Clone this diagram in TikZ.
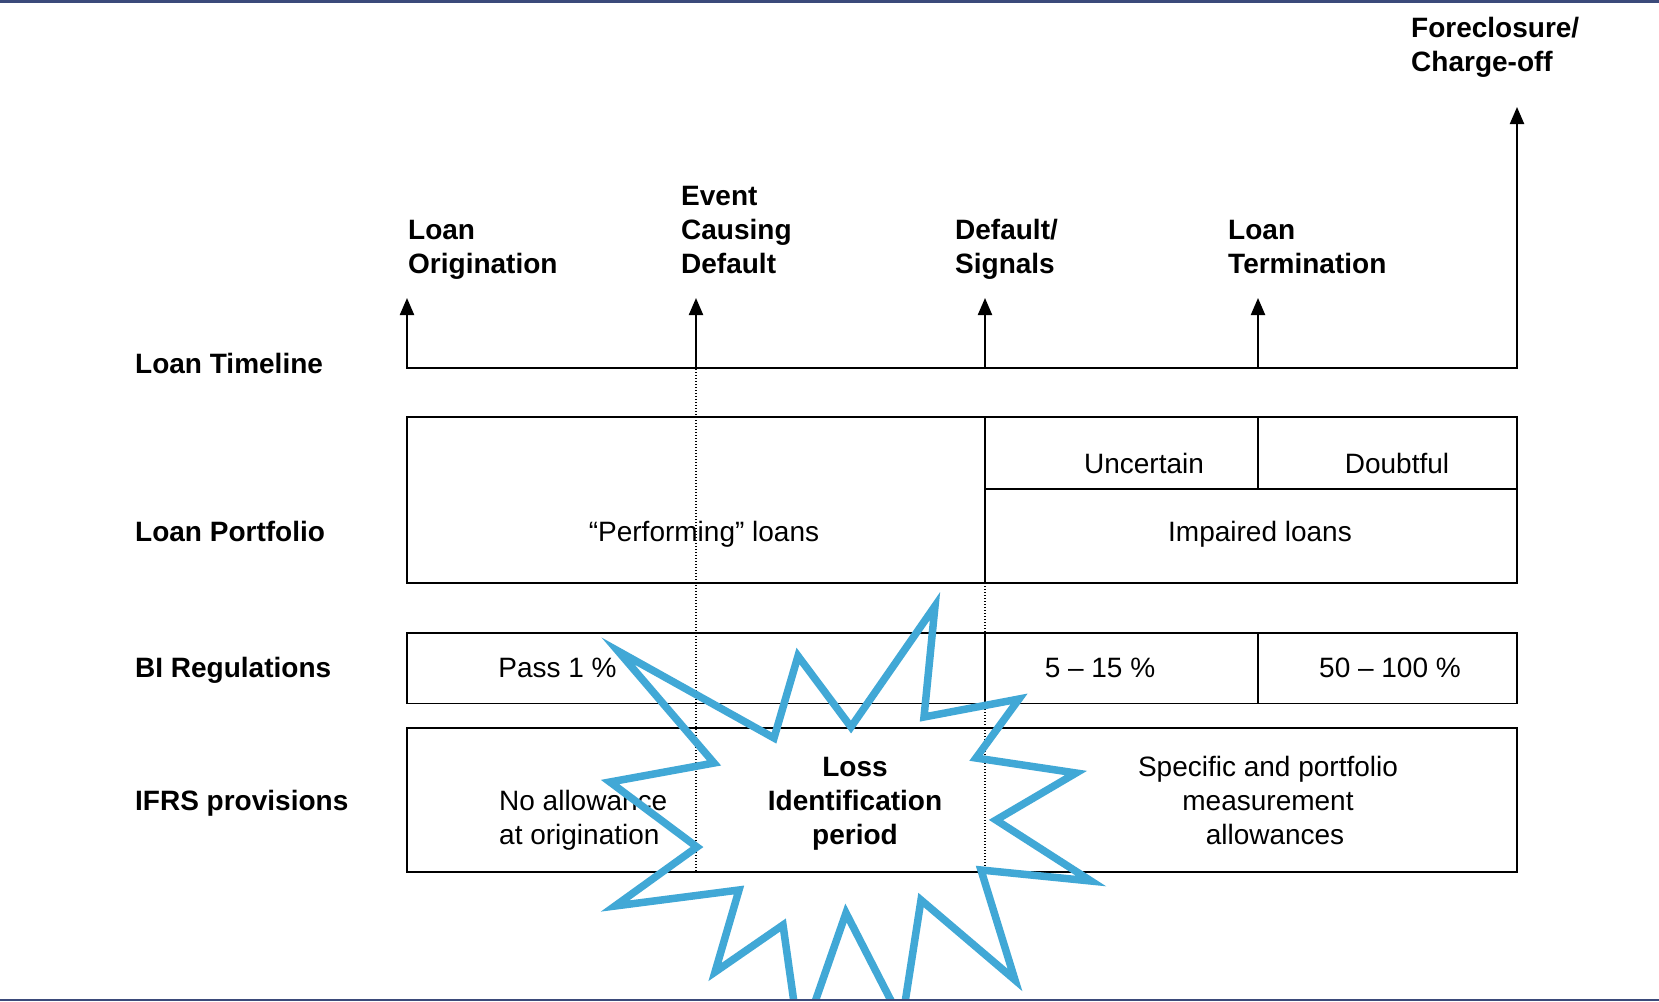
\documentclass[tikz,border=0pt]{standalone}
\usepackage{fontspec}
\setmainfont{Liberation Sans}
\usetikzlibrary{arrows.meta}
\definecolor{burst}{RGB}{65,168,214}
\definecolor{rulecol}{RGB}{59,74,122}
\newcommand{\firstline}{\rule{0pt}{24pt}}
\begin{document}
\begin{tikzpicture}[x=1pt,y=-1pt,
  txt/.style={inner sep=0pt, font=\fontsize{28}{34}\selectfont},
  btxt/.style={inner sep=0pt, font=\fontsize{28}{34}\selectfont\bfseries},
  grid/.style={line width=1.8pt, black},
  guide/.style={line width=1.1pt, dash pattern=on 1.1pt off 1.9pt},
  tick/.style={line width=2.2pt, -{Triangle[length=17pt,width=14pt]}}
]
\useasboundingbox (0,0) rectangle (1659,1001);
\fill[white] (0,0) rectangle (1659,1001);
% frame rules
\fill[rulecol] (0,0) rectangle (1659,3);
\fill[rulecol] (0,998.5) rectangle (1659,1001);

% row headings
\node[btxt, anchor=base west] (hTime) at (135,373) {Loan Timeline};
\node[btxt, anchor=base west] (hPort) at (135,541) {Loan Portfolio};
\node[btxt, anchor=base west] (hBI)   at (135,677) {BI Regulations};
\node[btxt, anchor=base west] (hIFRS) at (135,810) {IFRS provisions};

% events above the timeline
\node[btxt, anchor=north west, align=left] (eOrig) at (408,215) {\firstline Loan\\Origination};
\node[btxt, anchor=north west, align=left] (eEvent) at (681,181) {\firstline Event\\Causing\\Default};
\node[btxt, anchor=north west, align=left] (eDef) at (955,215) {\firstline Default/\\Signals};
\node[btxt, anchor=north west, align=left] (eTerm) at (1228,215) {\firstline Loan\\Termination};
\node[btxt, anchor=north west, align=left] (eFore) at (1411,13) {\firstline Foreclosure/\\Charge-off};

% timeline
\coordinate (t1) at (407,368);
\coordinate (t2) at (696,368);
\coordinate (t3) at (985,368);
\coordinate (t4) at (1258,368);
\coordinate (t5) at (1517,368);
\coordinate (a1) at (407,298);
\coordinate (a2) at (696,298);
\coordinate (a3) at (985,298);
\coordinate (a4) at (1258,298);
\coordinate (a5) at (1517,107);
\draw[line width=1.8pt, line cap=rect] (t1) -- (t5);
\foreach \i in {1,...,5} \draw[tick] (t\i) -- (a\i);

% dotted guides
\draw[guide] (696,369) -- (696,872);
\draw[guide] (985,583) -- (985,872);

% loan portfolio
\draw[grid] (407,417) rectangle (1517,583);
\draw[grid] (985,417) -- (985,583);
\draw[grid] (985,489) -- (1517,489);
\draw[grid] (1258,417) -- (1258,489);
\node[txt, anchor=base] (pUnc)  at (1144,473) {Uncertain};
\node[txt, anchor=base] (pDoub) at (1397,473) {Doubtful};
\node[txt, anchor=base] (pPerf) at (704,541) {“Performing” loans};
\node[txt, anchor=base] (pImp)  at (1260,541) {Impaired loans};

% BI regulations
\draw[grid] (407,633) rectangle (1517,703.5);
\draw[grid] (985,633) -- (985,703.5);
\draw[grid] (1258,633) -- (1258,703.5);
\node[txt, anchor=base] (bPass) at (557.5,677) {Pass 1 \%};
\node[txt, anchor=base] (bMid)  at (1100,677) {5 – 15 \%};
\node[txt, anchor=base] (bHigh) at (1390,677) {50 – 100 \%};

% IFRS provisions
\draw[grid] (407,728) rectangle (1517,872);
\node[txt, anchor=north west, align=left] (iNo) at (499,786) {\firstline No allowance\\at origination};
\node[txt, anchor=north, align=center] (iSpec) at (1268,752) {\firstline Specific and portfolio\\measurement\\\hspace*{14pt}allowances};

% loss identification burst
\begin{scope}
\clip (0,3) rectangle (1659,998.5);
\draw[burst, line width=7.5pt, line join=miter]
  (618,651) -- (714,763) -- (610,782) -- (697,847) -- (615,906)
  -- (739,890) -- (715,972) -- (783,925) -- (800,1045) -- (846,913)
  -- (902,1022) -- (921,900) -- (1015,980) -- (981,870) -- (1091,881)
  -- (996,820) -- (1076,773) -- (976,758) -- (1019,699) -- (924,717)
  -- (935,606) -- (851,727) -- (798,656) -- (774,738) -- cycle;
\end{scope}
\node[btxt, anchor=north, align=center] (loss) at (855,752) {\firstline Loss\\Identification\\period};
\end{tikzpicture}
\end{document}
